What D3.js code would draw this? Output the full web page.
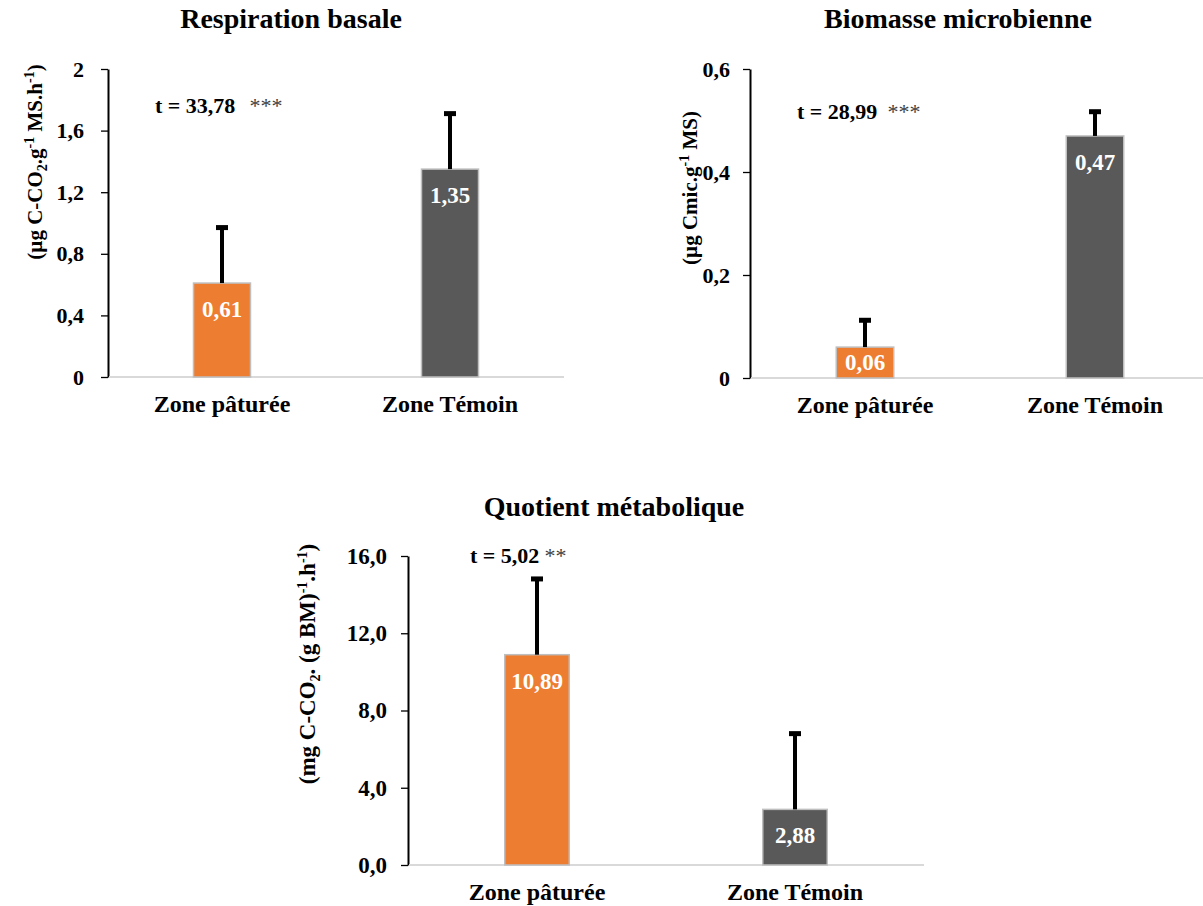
<!DOCTYPE html>
<html>
<head>
<meta charset="utf-8">
<script src="https://cdn.jsdelivr.net/npm/d3@7"></script>
<style>
  body { margin: 0; background: #fff; }
  svg text { font-family: "Liberation Serif", "Times New Roman", "DejaVu Serif", serif; }
</style>
</head>
<body>
<script>
'use strict';

// data
const categories = ["Zone pâturée", "Zone Témoin"];
const barColors = ["#ED7D31", "#595959"];

const respMeans = [0.61, 1.35];
const respSd = [0.37, 0.37];
const respLabels = ["0,61", "1,35"];
const respTicks = [0, 0.4, 0.8, 1.2, 1.6, 2];

const bioMeans = [0.06, 0.47];
const bioSd = [0.055, 0.05];
const bioLabels = ["0,06", "0,47"];
const bioTicks = [0, 0.2, 0.4, 0.6];

const quotMeans = [10.89, 2.88];
const quotSd = [4.0, 4.0];
const quotLabels = ["10,89", "2,88"];
const quotTicks = [0, 4, 8, 12, 16];

const serif = "Liberation Serif, Times New Roman, serif";

const svg = d3.select("body").append("svg")
  .attr("width", 1203)
  .attr("height", 906)
  .attr("font-family", serif);

function comma(fmt) {
  let f = d3.format(fmt);
  return function (d) { return f(d).replace(".", ","); };
}

function drawPanel(cfg) {
  let g = svg.append("g");

  let x = d3.scaleBand()
    .domain(categories)
    .range([cfg.left, cfg.right])
    .paddingInner(0.75)
    .paddingOuter(0.375);

  let y = d3.scaleLinear()
    .domain([0, cfg.max])
    .range([cfg.bottom, cfg.top]);

  // title
  g.append("text")
    .attr("x", cfg.titleX)
    .attr("y", cfg.titleY)
    .attr("text-anchor", "middle")
    .style("font-size", "28px")
    .style("font-weight", "bold")
    .text(cfg.title);

  // y axis
  let yAxis = d3.axisLeft(y)
    .tickValues(cfg.ticks)
    .tickFormat(cfg.format)
    .tickSizeInner(7)
    .tickSizeOuter(0)
    .tickPadding(cfg.pad);

  let ax = g.append("g")
    .attr("transform", "translate(" + cfg.left + ",0)")
    .call(yAxis)
    .attr("font-family", serif);
  ax.select(".domain").attr("stroke", "#000").attr("stroke-width", 2);
  ax.selectAll(".tick line").attr("stroke", "#000").attr("stroke-width", 1.3);
  ax.selectAll(".tick text")
    .attr("fill", "#000")
    .style("font-size", cfg.tickSize + "px")
    .style("font-weight", "bold");

  // baseline
  g.append("line")
    .attr("x1", cfg.left + 1)
    .attr("x2", cfg.right)
    .attr("y1", y(0))
    .attr("y2", y(0))
    .attr("stroke", "#D9D9D9")
    .attr("stroke-width", 2);

  // bars
  g.selectAll(".bar")
    .data(cfg.means)
    .enter()
    .append("rect")
    .attr("x", function (d, i) { return x(categories[i]); })
    .attr("y", function (d) { return y(d); })
    .attr("width", x.bandwidth())
    .attr("height", function (d) { return y(0) - y(d); })
    .attr("fill", function (d, i) { return barColors[i]; })
    .attr("stroke", "#BFBFBF")
    .attr("stroke-width", 1.5);

  // error bars (upper only)
  let cx = function (i) { return x(categories[i]) + x.bandwidth() / 2; };
  cfg.means.forEach(function (m, i) {
    g.append("line")
      .attr("x1", cx(i)).attr("x2", cx(i))
      .attr("y1", y(m)).attr("y2", y(m + cfg.sd[i]))
      .attr("stroke", "#000").attr("stroke-width", 4);
    g.append("line")
      .attr("x1", cx(i) - 6).attr("x2", cx(i) + 6)
      .attr("y1", y(m + cfg.sd[i]) + 1.5).attr("y2", y(m + cfg.sd[i]) + 1.5)
      .attr("stroke", "#000").attr("stroke-width", 5);
  });

  // value labels
  g.selectAll(".val")
    .data(cfg.means)
    .enter()
    .append("text")
    .attr("x", function (d, i) { return cx(i); })
    .attr("y", function (d) {
      return Math.min(y(d) + 34, (y(d) + y(0)) / 2 + 7);
    })
    .attr("text-anchor", "middle")
    .attr("fill", "#fff")
    .style("font-size", "23px")
    .style("font-weight", "bold")
    .text(function (d, i) { return cfg.labels[i]; });

  // category labels
  g.selectAll(".cat")
    .data(categories)
    .enter()
    .append("text")
    .attr("x", function (d) { return x(d) + x.bandwidth() / 2; })
    .attr("y", y(0) + 35)
    .attr("text-anchor", "middle")
    .style("font-size", "24px")
    .style("font-weight", "bold")
    .text(function (d) { return d; });

  // t statistic
  let t = g.append("text")
    .attr("x", cfg.tX)
    .attr("y", cfg.tY)
    .style("font-size", "22px");
  t.append("tspan").style("font-weight", "bold").text(cfg.tText);
  t.append("tspan").attr("fill", "#404040").attr("dx", cfg.starGap).text(cfg.stars);

  // y title (rotated)
  let yt = g.append("text")
    .attr("transform", "translate(" + cfg.ytX + "," + cfg.ytY + ") rotate(-90)")
    .attr("text-anchor", "middle")
    .style("font-size", cfg.ytSize + "px")
    .style("font-weight", "bold");
  cfg.ytParts.forEach(function (p) {
    let s = yt.append("tspan").text(p[0]);
    if (p[1] == "sup") {
      s.attr("dy", -8).style("font-size", "14px");
    } else if (p[1] == "sub") {
      s.attr("dy", 5).style("font-size", "14px");
    } else if (p[1] == "back") {
      s.attr("dy", 8);
    } else if (p[1] == "up") {
      s.attr("dy", -5);
    }
  });
}

drawPanel({
  title: "Respiration basale", titleX: 291, titleY: 28,
  left: 108, right: 564, top: 69, bottom: 377, max: 2,
  means: respMeans, sd: respSd, labels: respLabels,
  ticks: respTicks, format: comma("~g"), pad: 17, tickSize: 22,
  tText: "t = 33,78", stars: "***", starGap: 14, tX: 155, tY: 113,
  ytX: 42, ytY: 162, ytSize: 21,
  ytParts: [["(µg C-CO"], ["2", "sub"], [".g", "up"], ["-1", "sup"], [" MS.h", "back"], ["-1", "sup"], [")", "back"]]
});

drawPanel({
  title: "Biomasse microbienne", titleX: 958, titleY: 28,
  left: 750, right: 1210, top: 69, bottom: 378, max: 0.6,
  means: bioMeans, sd: bioSd, labels: bioLabels,
  ticks: bioTicks, format: comma("~g"), pad: 13, tickSize: 22,
  tText: "t = 28,99", stars: "***", starGap: 10, tX: 797, tY: 119,
  ytX: 697, ytY: 188, ytSize: 21,
  ytParts: [["(µg Cmic.g"], ["-1", "sup"], [" MS)", "back"]]
});

drawPanel({
  title: "Quotient métabolique", titleX: 614, titleY: 516,
  left: 408, right: 924, top: 556, bottom: 865, max: 16,
  means: quotMeans, sd: quotSd, labels: quotLabels,
  ticks: quotTicks, format: comma(".1f"), pad: 14, tickSize: 23,
  tText: "t = 5,02", stars: "**", starGap: 5, tX: 470, tY: 563,
  ytX: 315, ytY: 664, ytSize: 23,
  ytParts: [["(mg C-CO"], ["2", "sub"], [". (g BM)", "up"], ["-1", "sup"], [".h", "back"], ["-1", "sup"], [")", "back"]]
});
</script>
</body>
</html>
